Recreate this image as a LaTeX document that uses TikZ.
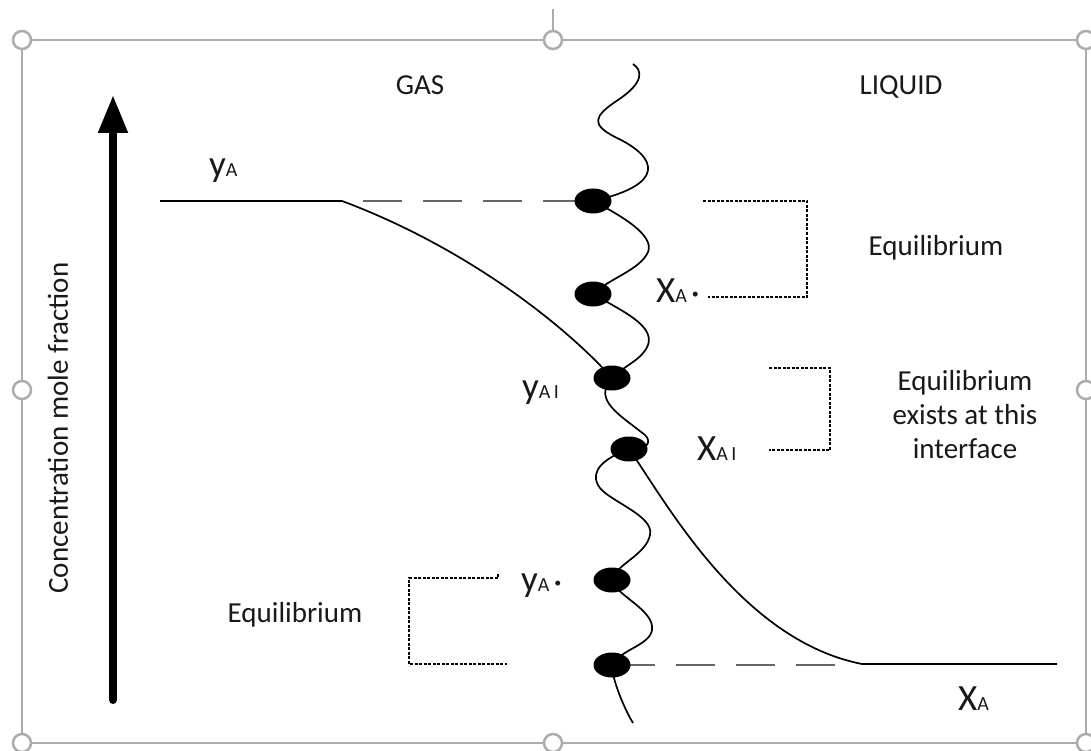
\documentclass[tikz,border=0pt]{standalone}
\usepackage{fontspec}
\setmainfont{Carlito}
\usepackage{tikz}
\usetikzlibrary{
  arrows.meta,
  positioning,
  shapes.geometric,
  calc,
  backgrounds
}
\newcommand{\mainsize}{\fontsize{29}{34}\selectfont}
\newcommand{\symbsize}{\fontsize{37}{42}\selectfont}
\newcommand{\subsize}{\fontsize{20}{22}\selectfont}
\newcommand{\conc}[2]{{\symbsize #1}{\subsize #2}}
\newcommand{\eqdot}{\,{\fontsize{14}{14}\selectfont\raisebox{4pt}{\textbullet}}}

\begin{document}
\begin{tikzpicture}[x=1pt, y=-1pt,
  every node/.style={font=\mainsize, text=black!90},
  dot/.style={ellipse, fill=black, minimum width=37pt, minimum height=25pt, inner sep=0pt},
  handle/.style={circle, draw=gray!65, fill=white, line width=2.5pt, minimum size=18pt, inner sep=0pt},
  curve/.style={line width=1.7pt},
  guide/.style={line width=1.6pt, draw=black!60, dash pattern=on 39pt off 21pt},
  bracket/.style={line width=1.3pt, dash pattern=on 3pt off 1.5pt},
  conclabel/.style={anchor=base west, inner sep=0pt}
]
\useasboundingbox (0,0) rectangle (1091,751);

\draw[gray!65, line width=2pt] (22,40) rectangle (1086,743);
\draw[gray!65, line width=2pt] (553,9) -- (553,31);
\foreach \hx/\hy [count=\i] in {22/40, 553/40, 1086/40, 22/390, 1086/390, 22/743, 553/743, 1086/743}
  \node[handle] (h\i) at (\hx,\hy) {};

\coordinate (axisbottom) at (113,700);
\coordinate (axistop) at (113,95);
\draw[line width=8pt, line cap=round, -{Triangle[length=38pt,width=28pt]}] (axisbottom) -- (axistop);
\node[rotate=90] (axislabel) at (58,428) {Concentration mole fraction};

\node[anchor=base] (gas) at (420,95) {GAS};
\node[anchor=base] (liquid) at (901,95) {LIQUID};

\coordinate (wavetop) at (633,64);
\coordinate (wavebottom) at (633,723);
\coordinate (yastart) at (160,201);
\coordinate (gaskink) at (342,201);
\coordinate (gasdash) at (363,201);
\coordinate (liqkink) at (862,664);
\coordinate (xaend) at (1057,664);
\coordinate (liqdash) at (835,665);

\node[dot] (d1) at (593,201) {};
\node[dot] (d2) at (593,294) {};
\node[dot] (d3) at (612,378) {};
\node[dot] (d4) at (629,449) {};
\node[dot] (d5) at (612,580) {};
\node[dot] (d6) at (612,665) {};

\begin{scope}[on background layer]
\draw[guide] (gasdash) -- (d1.center);
\draw[guide] (liqdash) -- (d6.center);
\draw[curve] (yastart) -- (gaskink) .. controls (460,245) and (560,320) .. (d3.center);
\draw[curve] (d4.center) .. controls (665,500) and (740,640) .. (liqkink) -- (xaend);
\draw[curve] (wavetop) .. controls (642,70) and (645,82) .. (618,100)
  .. controls (592,117) and (592,125) .. (615,137)
  .. controls (660,158) and (665,185) .. (d1.center)
  .. controls (620,215) and (655,235) .. (648,252)
  .. controls (640,270) and (610,278) .. (d2.center)
  .. controls (620,310) and (655,325) .. (648,345)
  .. controls (642,360) and (625,365) .. (d3.center)
  .. controls (592,400) and (620,415) .. (645,435)
  .. controls (652,442) and (648,450) .. (d4.center)
  .. controls (605,458) and (590,470) .. (598,485)
  .. controls (605,500) and (655,515) .. (650,535)
  .. controls (646,555) and (615,565) .. (d5.center)
  .. controls (615,595) and (655,610) .. (652,630)
  .. controls (650,645) and (620,650) .. (d6.center)
  .. controls (612,680) and (625,710) .. (wavebottom);
\end{scope}

\draw[bracket] (703,201) -- (807,201) -- (807,297) -- (708,297);
\draw[bracket] (769,368) -- (830,368) -- (830,450) -- (769,450);
\draw[bracket] (498,574) -- (498,578) -- (409,578) -- (409,664) -- (507,664);

\node[conclabel] (ya) at (209,177) {\conc{y}{A}};
\node[conclabel] (xastar) at (656,302) {\conc{X}{A}\eqdot};
\node[conclabel] (yai) at (522,398) {\conc{y}{A\,I}};
\node[conclabel] (xai) at (697,460) {\conc{X}{A\,I}};
\node[conclabel] (yastar) at (521,591) {\conc{y}{A}\eqdot};
\node[conclabel] (xa) at (958,710) {\conc{X}{A}};

\node (eqtop) at (936,248) {Equilibrium};
\node[align=center] (eqmid) at (965,415) {Equilibrium\\exists at this\\interface};
\node (eqlow) at (295,615) {Equilibrium};
\end{tikzpicture}
\end{document}
